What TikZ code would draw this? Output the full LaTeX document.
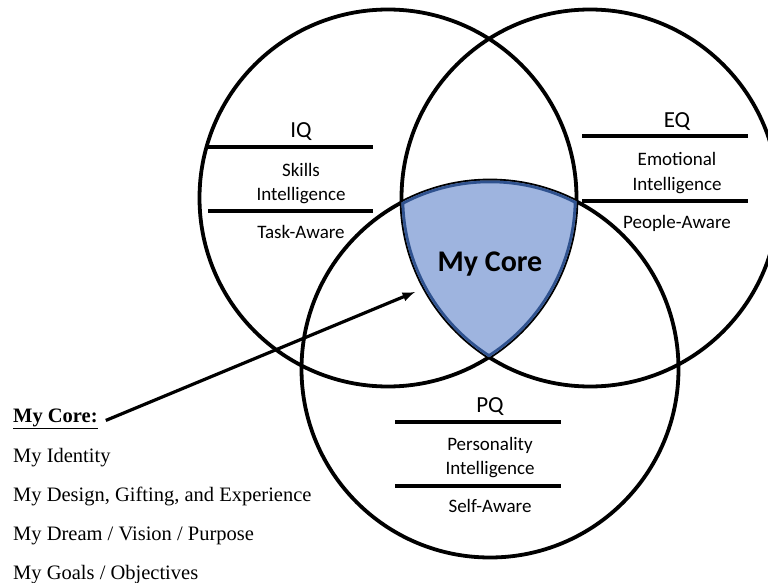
\documentclass[tikz,border=0pt]{standalone}
\usepackage{fontspec}
\setmainfont{Liberation Serif}
\newfontfamily\calib{Carlito}
\usepackage{tikz}
\usetikzlibrary{arrows,positioning}
\definecolor{corefill}{RGB}{158,180,223}
\definecolor{coreline}{RGB}{47,82,143}
\tikzset{
    ring/.style={draw=black, line width=3.8pt},
    rule/.style={draw=black, line width=4pt},
    head/.style={anchor=base, font=\calib\fontsize{23}{26}\selectfont},
    body/.style={anchor=base, font=\calib\fontsize{19}{22}\selectfont},
    item/.style={anchor=base west, inner sep=0pt, font=\fontsize{20.5}{24}\selectfont},
}
\tikzset{>=latex}

\begin{document}
\begin{tikzpicture}[x=1pt,y=-1pt]
\useasboundingbox (0,0) rectangle (768,583);
\fill[white] (0,0) rectangle (768,583);

\coordinate (iq) at (388,198);
\coordinate (eq) at (590,198);
\coordinate (pq) at (490,369);

\draw [ring] (iq) circle (188.5);
\draw [ring] (eq) circle (188.5);
\draw [ring] (pq) circle (188.5);

% the core
\begin{scope}
\clip (iq) circle (188.5);
\clip (eq) circle (188.5);
\clip (pq) circle (188.5);
\fill [corefill] (300,0) rectangle (700,583);
\draw [coreline, line width=5.5pt] (iq) circle (188.5);
\draw [coreline, line width=5.5pt] (eq) circle (188.5);
\draw [coreline, line width=5.5pt] (pq) circle (188.5);
\end{scope}
\node [anchor=base, font=\calib\bfseries\fontsize{30}{34}\selectfont] (core) at (490,271) {My Core};

% IQ
\draw [rule] (208,147) -- (373,147);
\draw [rule] (208,211) -- (373,211);
\node [head] (iqname) at (301,138) {IQ};
\node [body] (iqa) at (301,176) {Skills};
\node [body] (iqb) at (301,200) {Intelligence};
\node [body] (iqc) at (301,238) {Task-Aware};

% EQ
\draw [rule] (582,136) -- (748,136);
\draw [rule] (582,201) -- (748,201);
\node [head] (eqname) at (677,128) {EQ};
\node [body] (eqa) at (677,165) {Emotional};
\node [body] (eqb) at (677,190) {Intelligence};
\node [body] (eqc) at (677,228) {People-Aware};

% PQ
\draw [rule] (395,422) -- (561,422);
\draw [rule] (395,486) -- (561,486);
\node [head] (pqname) at (490,412) {PQ};
\node [body] (pqa) at (490,450) {Personality};
\node [body] (pqb) at (490,474) {Intelligence};
\node [body] (pqc) at (490,512) {Self-Aware};

% list
\node [item] (mycore) at (13,422) {\underline{\textbf{My Core:}}};
\node [item] (l1) at (13,462) {My Identity};
\node [item] (l2) at (13,501) {My Design, Gifting, and Experience};
\node [item] (l3) at (13,540) {My Dream / Vision / Purpose};
\node [item] (l4) at (13,579) {My Goals / Objectives};

\coordinate (tip) at (415,292);
\draw [->, line width=3.2pt] ([xshift=8pt,yshift=-2pt]mycore.east) -- (tip);
\end{tikzpicture}
\end{document}
